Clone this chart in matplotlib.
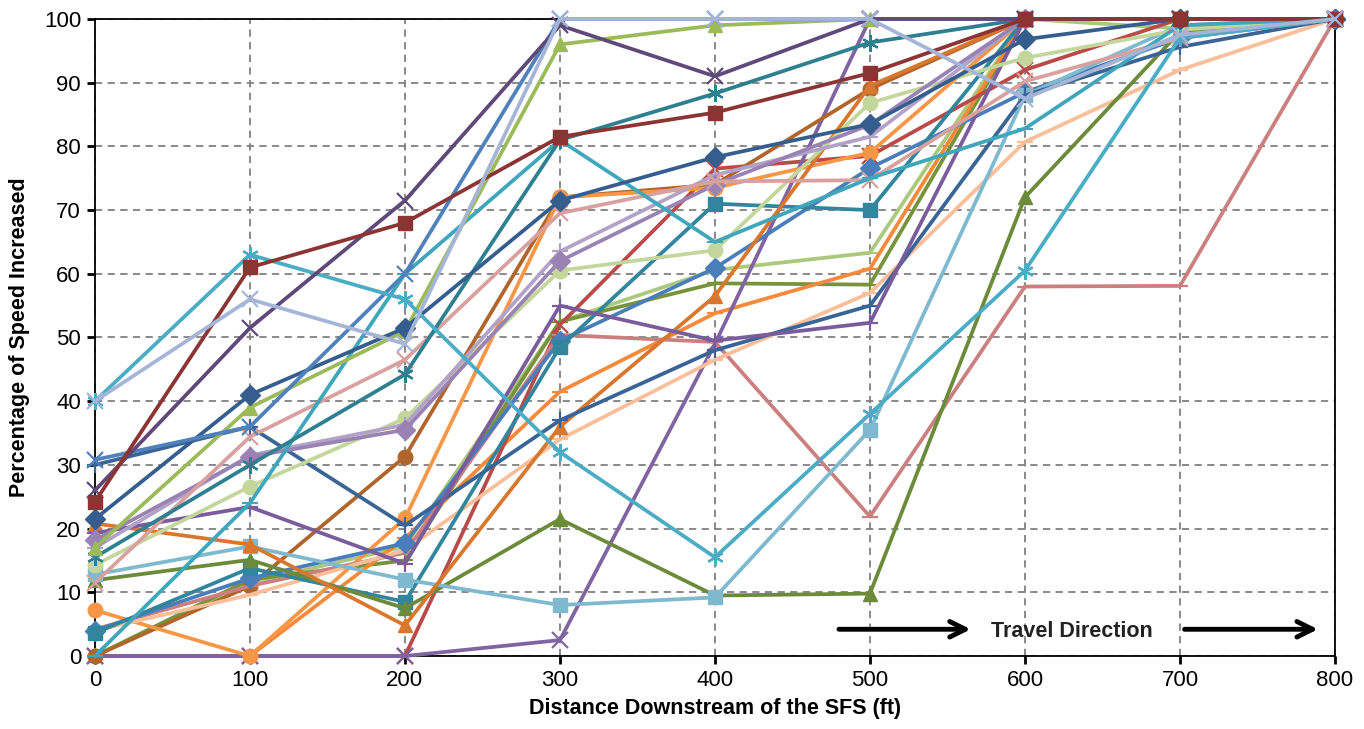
import matplotlib.pyplot as plt

plt.rcParams['font.family'] = ['Liberation Sans', 'DejaVu Sans']

# Distance downstream of the SFS (ft)
distance = [0, 100, 200, 300, 400, 500, 600, 700, 800]

# Percentage of speed increased, one list per detector series
s01 = [24.2, 61.0, 68.0, 81.5, 85.3, 91.5, 100, 100, 100]
s02 = [26.0, 51.5, 71.5, 99.0, 91.0, 100, 100, 100, 100]
s03 = [40.0, 63.0, 56.0, 32.0, 15.5, 38.0, 60.5, 97.0, 100]
s04 = [40.0, 56.0, 49.0, 100, 100, 100, 87.5, 97.5, 100]
s05 = [21.5, 41.0, 51.5, 71.5, 78.3, 83.5, 96.8, 100, 100]
s06 = [17.0, 39.0, 51.0, 96.0, 99.0, 100, 100, 100, 100]
s07 = [15.5, 30.0, 44.2, 81.0, 88.3, 96.3, 100, 100, 100]
s08 = [7.2, 0.0, 21.6, 72.0, 73.5, 79.0, 100, 100, 100]
s09 = [0.0, 11.0, 31.3, 72.0, 74.0, 89.0, 100, 100, 100]
s10 = [30.8, 36.0, 60.0, 100, 100, 100, 100, 100, 100]
s11 = [30.0, 36.0, 20.5, 37.0, 48.0, 55.0, 88.0, 95.6, 100]
s12 = [0.0, 0.0, 0.0, 2.5, 49.0, 100, 100, 100, 100]
s13 = [19.3, 23.4, 14.5, 55.0, 49.5, 52.3, 100, 100, 100]
s14 = [18.2, 31.3, 35.5, 62.0, 74.0, 83.4, 100, 100, 100]
s15 = [17.0, 31.5, 36.3, 63.5, 75.5, 81.5, 100, 100, 100]
s16 = [14.3, 26.6, 37.3, 60.5, 63.7, 86.8, 93.9, 98.3, 100]
s17 = [11.5, 34.4, 46.5, 69.5, 74.5, 74.7, 90.2, 97.0, 100]
s18 = [12.8, 17.2, 12.0, 8.0, 9.2, 35.5, 88.0, 99.0, 100]
s19 = [11.9, 15.1, 7.5, 21.5, 9.5, 9.8, 72.0, 98.0, 100]
s20 = [3.6, 13.8, 8.5, 48.5, 71.0, 70.0, 100, 100, 100]
s21 = [20.8, 17.5, 4.8, 36.0, 56.5, 89.5, 100, 100, 100]
s22 = [0.0, 0.0, 18.5, 41.5, 53.8, 60.8, 100, 100, 100]
s23 = [4.0, 9.6, 16.6, 34.0, 46.5, 57.0, 80.7, 92.0, 100]
s24 = [4.2, 11.0, 16.2, 50.4, 49.3, 21.9, 58.0, 58.1, 100]
s25 = [0.0, 0.0, 0.0, 52.0, 76.5, 78.5, 92.0, 100, 100]
s26 = [0.0, 11.5, 17.2, 52.5, 60.6, 63.3, 100, 98.5, 100]
s27 = [4.0, 12.2, 17.7, 49.5, 60.9, 76.6, 88.5, 97.0, 100]
s28 = [0.0, 24.0, 60.0, 81.0, 65.0, 75.0, 82.8, 99.0, 100]
s29 = [0.0, 12.0, 15.0, 52.5, 58.5, 58.3, 100, 100, 100]

series = [s26, s29, s22, s25, s12, s09, s08, s24, s23, s27, s20, s19, s18,
          s21, s11, s13, s16, s15, s14, s17, s28, s07, s06, s05, s10, s03,
          s02, s01, s04]
colors = ['#abc97c', '#77933c', '#f68a3a', '#b94a48', '#8064a2', '#b0652c',
          '#f79646', '#cc7f7f', '#f9bf9a', '#4a7ebb', '#31859c', '#6b8b3a',
          '#7fb9cf', '#d8782f', '#3a6496', '#7a5c9c', '#c3d69b', '#b3a2c7',
          '#9983b5', '#d9a0a0', '#3fa6bc', '#2e7f8f', '#9bbb59', '#355d8e',
          '#4f81bd', '#4bacc6', '#5f497a', '#8b3433', '#a5b5d8']
markers = ['_', '+', '_', 'x', 'x', 'o', 'o', '_', '_', 'D', 's', '^', 's',
           '^', '+', '+', 'o', '+', 'D', 'x', '_', (6, 2, 0), '^', 'D', 'x',
           (6, 2, 0), 'x', 's', 'x']

fig, ax = plt.subplots(figsize=(13.64, 7.29), dpi=100)
fig.subplots_adjust(left=0.0696, right=0.9787, bottom=0.1001, top=0.974)

for vals, c, m in zip(series, colors, markers):
    filled = m in ('o', 's', 'D', '^')
    ax.plot(distance, vals, color=c, lw=2.7, marker=m,
            ms=10.5 if filled else 12, mfc=c, mec=c,
            mew=1 if filled else 1.6, clip_on=False, zorder=3)

ax.set_xlim(0, 800)
ax.set_ylim(0, 100)
ax.set_xticks(range(0, 801, 100))
ax.set_yticks(range(0, 101, 10))
ax.grid(True, color='#808080', linestyle=(0, (4, 3)), linewidth=1.3)
ax.set_axisbelow(True)
for sp in ax.spines.values():
    sp.set_color('black')
    sp.set_linewidth(1.3)
ax.tick_params(axis='both', direction='out', length=6, width=2, labelsize=16,
               colors='black', pad=4)

ax.set_xlabel('Distance Downstream of the SFS (ft)', fontsize=15.5,
              fontweight='bold', labelpad=5)
ax.set_ylabel('Percentage of Speed Increased', fontsize=15.5,
              fontweight='bold', labelpad=10)

# Travel direction note
arrow = dict(arrowstyle='->', lw=3.5, color='black', mutation_scale=28,
             shrinkA=0, shrinkB=0)
ax.annotate('', xy=(565, 4.2), xytext=(480, 4.2), arrowprops=arrow, zorder=5)
ax.annotate('', xy=(789, 4.2), xytext=(703, 4.2), arrowprops=arrow, zorder=5)
ax.text(630, 3.8, 'Travel Direction', ha='center', va='center',
        fontsize=15.5, fontweight='bold', color='#222222', zorder=5)

fig.savefig('out.png', dpi=100)
